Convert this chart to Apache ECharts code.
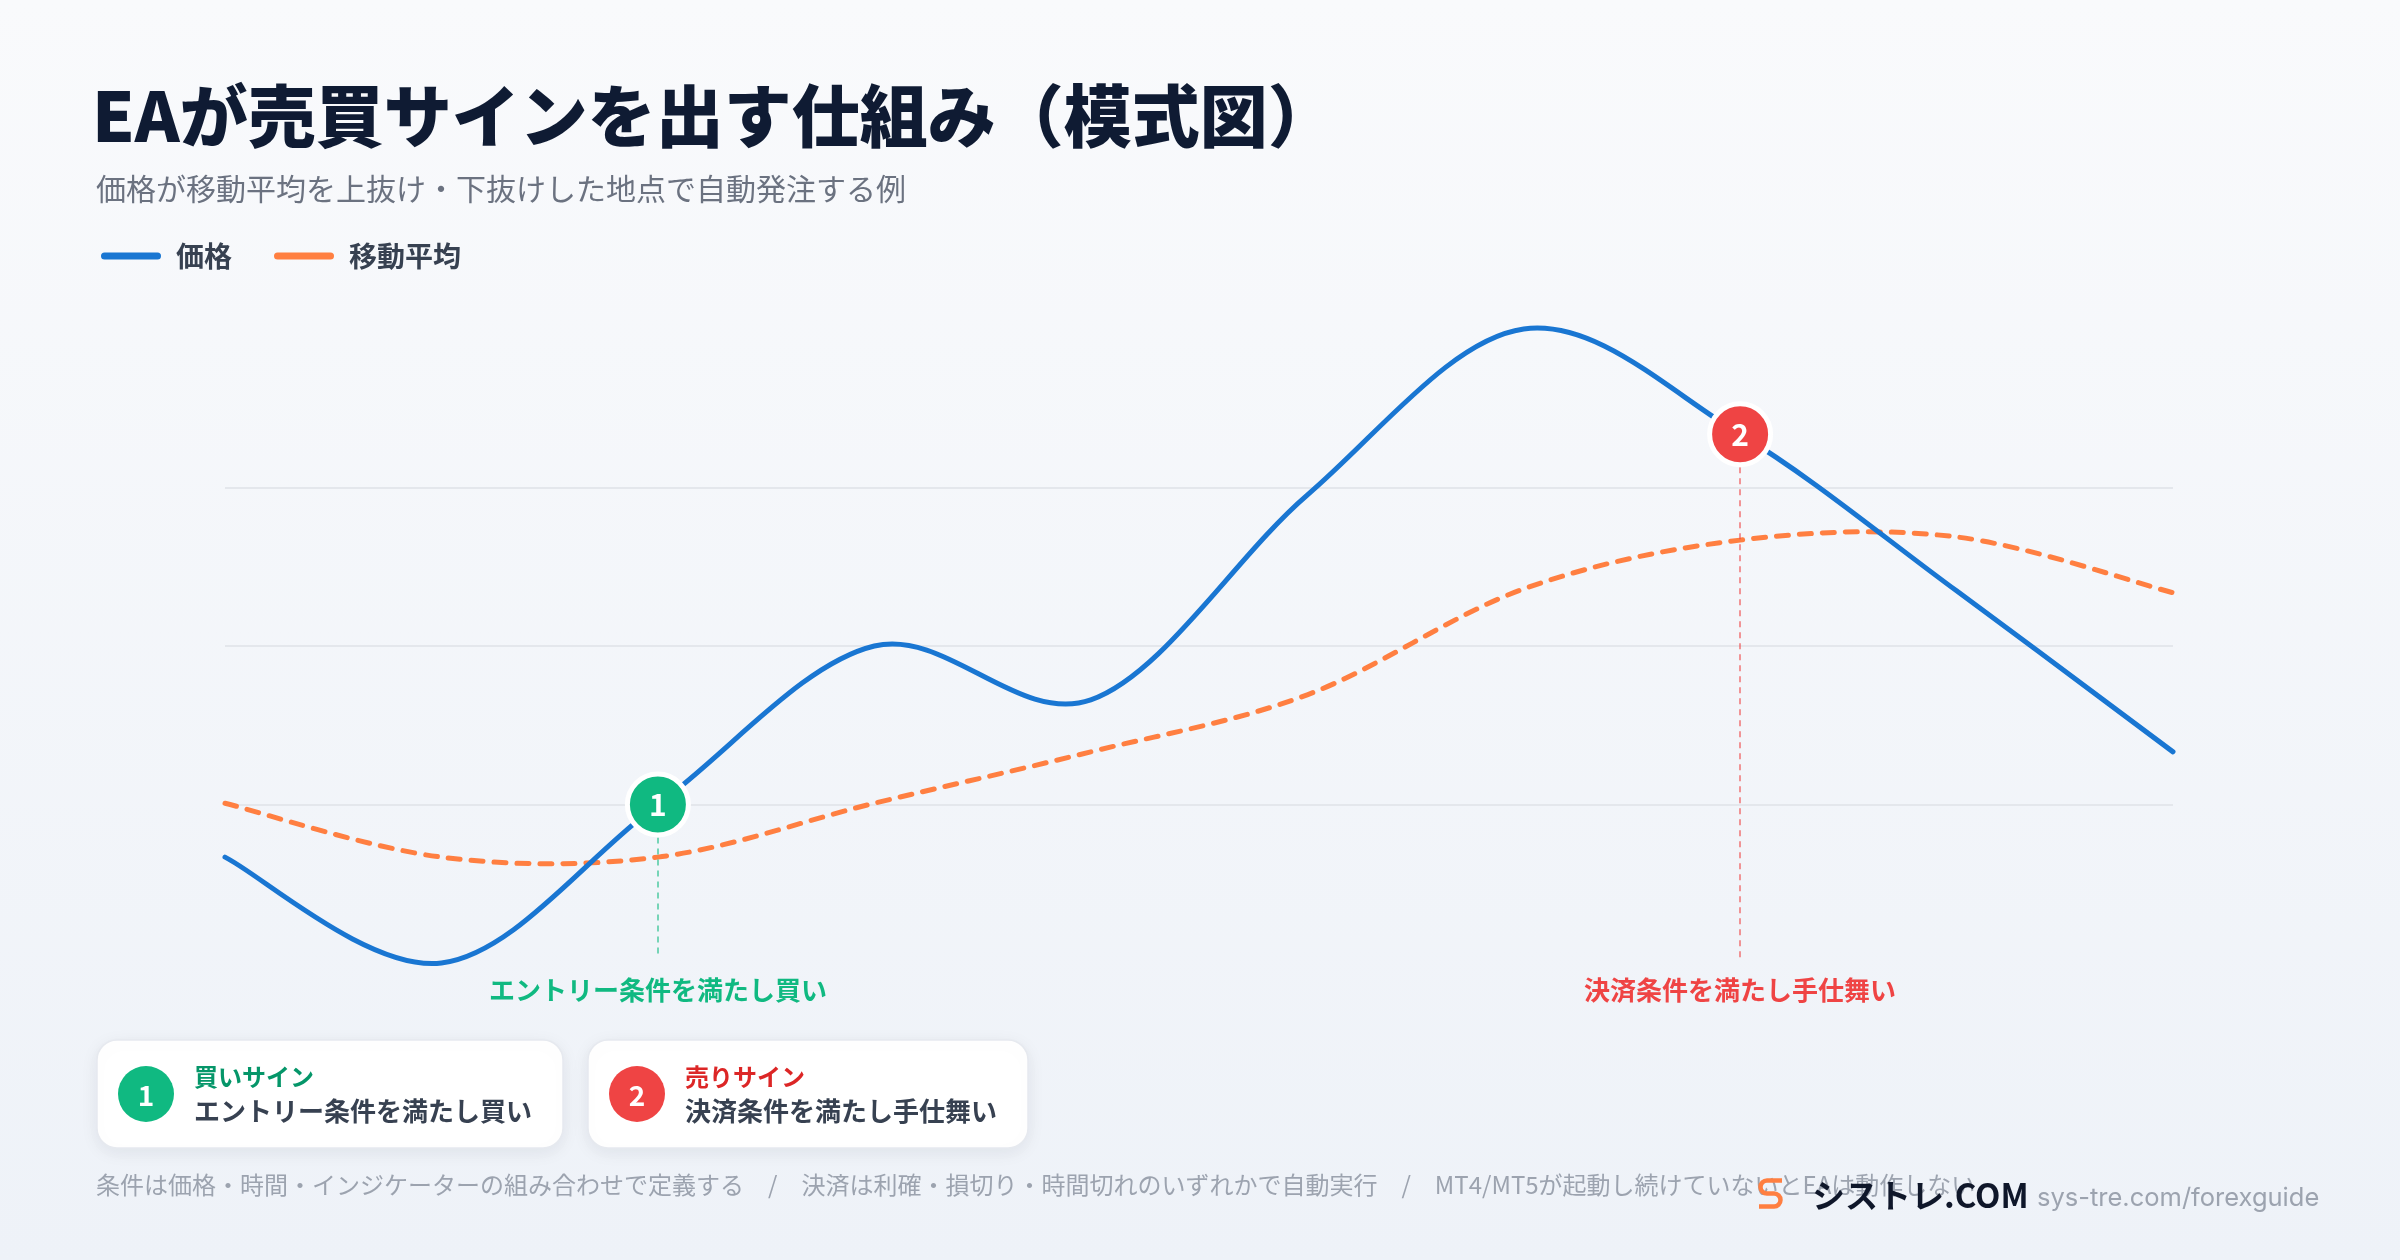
<!DOCTYPE html>
<html>
<head>
<meta charset="utf-8">
<script src="https://cdn.jsdelivr.net/npm/echarts@6/dist/echarts.min.js"></script>
<style>
  html, body { margin: 0; padding: 0; background: #f5f7fb; }
  #chart { width: 2400px; height: 1260px; }
</style>
</head>
<body>
<div id="chart"></div>
<script>
// ---- data ----
const categories = ['t1', 't2', 't3', 't4', 't5', 't6', 't7', 't8', 't9', 't10'];
const priceValues = [16.7, 0, 25, 50, 41.5, 73.8, 100, 83.4, 58.7, 33.3];
const maValues = [25.2, 16.7, 16.7, 25.2, 33.3, 42.3, 59.0, 66.7, 67.2, 58.4];
const seriesNames = ['価格', '移動平均'];
const signalIndex = [2, 7];
const signalNumbers = ['1', '2'];
const signalLabels = ['エントリー条件を満たし買い', '決済条件を満たし手仕舞い'];
const cardTitles = ['買いサイン', '売りサイン'];
const cardTexts = ['エントリー条件を満たし買い', '決済条件を満たし手仕舞い'];
const yTicks = [0, 25, 50, 75, 100];

const titleText = 'EAが売買サインを出す仕組み（模式図）';
const subtitleText = '価格が移動平均を上抜け・下抜けした地点で自動発注する例';
const footerText = '条件は価格・時間・インジケーターの組み合わせで定義する　/　決済は利確・損切り・時間切れのいずれかで自動実行　/　MT4/MT5が起動し続けていないとEAは動作しない';

// ---- styles ----
const JP = '"Noto Sans CJK JP", "Noto Sans", sans-serif';
const BLUE = '#1976d2';
const ORANGE = '#ff7f41';
const GREEN = '#10b981';
const RED = '#ef4444';
const signalColors = [GREEN, RED];
const signalLineColors = ['rgba(16,185,129,0.55)', 'rgba(239,68,68,0.55)'];
const cardTitleColors = ['#059669', '#dc2626'];

const chart = echarts.init(document.getElementById('chart'), null, { renderer: 'canvas' });

// Cardinal (Catmull-Rom) spline through the series points, positioned by the axes (api.coord)
function splineItem(values, style) {
  return function (params, api) {
    if (params.dataIndex !== 0) return null;
    const pts = values.map((v, i) => api.coord([i, v]));
    const n = pts.length;
    let d = 'M' + pts[0][0] + ' ' + pts[0][1];
    for (let i = 0; i < n - 1; i++) {
      const p0 = pts[i - 1] || pts[i];
      const p1 = pts[i];
      const p2 = pts[i + 1];
      const p3 = pts[i + 2] || pts[i + 1];
      const c1x = p1[0] + (p2[0] - p0[0]) / 6, c1y = p1[1] + (p2[1] - p0[1]) / 6;
      const c2x = p2[0] - (p3[0] - p1[0]) / 6, c2y = p2[1] - (p3[1] - p1[1]) / 6;
      d += ' C' + c1x + ' ' + c1y + ' ' + c2x + ' ' + c2y + ' ' + p2[0] + ' ' + p2[1];
    }
    return { type: 'path', shape: { pathData: d }, style: Object.assign({ fill: 'none' }, style), silent: true };
  };
}

const cards = [
  { x: 97, w: 466 },
  { x: 588, w: 440 }
];
const logoStroke = { stroke: ORANGE, lineWidth: 4.5, fill: null };
const graphics = [
  { type: 'text', x: 92, y: 116, style: { text: titleText, font: '900 68px ' + JP, fill: '#0f1b33', verticalAlign: 'middle' } },
  { type: 'text', x: 96, y: 189, style: { text: subtitleText, font: '30px ' + JP, fill: '#6b7280', verticalAlign: 'middle' } },
  { type: 'text', x: 96, y: 1185, style: { text: footerText, font: '24px ' + JP, fill: '#9ca3af', verticalAlign: 'middle' } },
  { type: 'line', shape: { x1: 1782, y1: 1180.5, x2: 1767, y2: 1180.5 }, style: logoStroke },
  { type: 'arc', shape: { cx: 1767, cy: 1187, r: 6.5, startAngle: Math.PI / 2, endAngle: Math.PI * 1.5, clockwise: true }, style: logoStroke },
  { type: 'line', shape: { x1: 1767, y1: 1193.5, x2: 1774, y2: 1193.5 }, style: logoStroke },
  { type: 'arc', shape: { cx: 1774, cy: 1200, r: 6.5, startAngle: -Math.PI / 2, endAngle: Math.PI / 2, clockwise: true }, style: logoStroke },
  { type: 'line', shape: { x1: 1774, y1: 1206.5, x2: 1759, y2: 1206.5 }, style: logoStroke },
  { type: 'text', x: 1812, y: 1195, style: { text: 'シストレ.COM', font: 'bold 33px ' + JP, fill: '#0f172a', verticalAlign: 'middle' } },
  { type: 'text', x: 2037, y: 1198, style: { text: 'sys-tre.com/forexguide', font: '25.5px Inter, Roboto, sans-serif', fill: '#9ca3af', verticalAlign: 'middle' } }
];
cards.forEach((c, i) => {
  graphics.push({ type: 'rect', shape: { x: c.x, y: 1040, width: c.w, height: 108, r: 20 },
    style: { fill: '#ffffff', stroke: '#e6e9ef', lineWidth: 1.5, shadowBlur: 18, shadowColor: 'rgba(15,23,42,0.07)', shadowOffsetY: 4 } });
  graphics.push({ type: 'circle', shape: { cx: c.x + 49, cy: 1094, r: 28 }, style: { fill: signalColors[i] } });
  graphics.push({ type: 'text', x: c.x + 49, y: 1095, style: { text: signalNumbers[i], font: 'bold 28px ' + JP, fill: '#ffffff', align: 'center', verticalAlign: 'middle' } });
  graphics.push({ type: 'text', x: c.x + 97, y: 1077, style: { text: cardTitles[i], font: 'bold 24px ' + JP, fill: cardTitleColors[i], verticalAlign: 'middle' } });
  graphics.push({ type: 'text', x: c.x + 97, y: 1111, style: { text: cardTexts[i], font: 'bold 26px ' + JP, fill: '#374151', verticalAlign: 'middle' } });
});

const option = {
  animation: false,
  backgroundColor: {
    type: 'linear', x: 0, y: 0, x2: 0, y2: 1,
    colorStops: [{ offset: 0, color: '#f9fafc' }, { offset: 1, color: '#eef2f8' }]
  },
  textStyle: { fontFamily: JP },
  grid: { left: 225, right: 227, top: 329, bottom: 297 },
  legend: {
    left: 96, top: 237,
    data: seriesNames,
    icon: 'path://M3.5,0 L56.5,0 A3.5,3.5 0 0 1 56.5,7 L3.5,7 A3.5,3.5 0 0 1 3.5,0 Z',
    itemWidth: 60, itemHeight: 7, itemGap: 42,
    itemStyle: { borderWidth: 0 },
    textStyle: { fontSize: 28, fontWeight: 'bold', color: '#374151', fontFamily: JP, padding: [0, 0, 0, 10] },
    selectedMode: false
  },
  xAxis: {
    type: 'category', data: categories, boundaryGap: false,
    axisLine: { show: false }, axisTick: { show: false }, axisLabel: { show: false }, splitLine: { show: false }
  },
  yAxis: {
    type: 'value', min: yTicks[0], max: yTicks[yTicks.length - 1], interval: yTicks[1] - yTicks[0],
    axisLine: { show: false }, axisTick: { show: false }, axisLabel: { show: false },
    splitLine: { show: true, showMinLine: false, showMaxLine: false, lineStyle: { color: '#e4e7ec', width: 2 } }
  },
  series: [
    {
      name: seriesNames[1], type: 'custom', z: 2, clip: false, silent: true,
      data: maValues.map((v, i) => [i, v]),
      encode: { x: 0, y: 1 },
      itemStyle: { color: ORANGE },
      renderItem: splineItem(maValues, { stroke: ORANGE, lineWidth: 5, lineDash: [12, 11], lineCap: 'round' })
    },
    {
      name: seriesNames[0], type: 'custom', z: 3, clip: false, silent: true,
      data: priceValues.map((v, i) => [i, v]),
      encode: { x: 0, y: 1 },
      itemStyle: { color: BLUE },
      renderItem: splineItem(priceValues, { stroke: BLUE, lineWidth: 5, lineJoin: 'round', lineCap: 'round' })
    },
    {
      name: 'signals', type: 'scatter', z: 10, silent: true,
      data: signalIndex.map((idx, i) => ({
        name: signalNumbers[i], value: [idx, priceValues[idx]],
        itemStyle: { color: signalColors[i] }
      })),
      symbol: 'circle', symbolSize: 61,
      itemStyle: { borderColor: '#ffffff', borderWidth: 5, opacity: 1 },
      label: { show: true, position: 'inside', formatter: '{b}', color: '#ffffff', fontSize: 30, fontWeight: 'bold', fontFamily: JP },
      markLine: {
        silent: true, symbol: 'none', z: 4, animation: false,
        data: signalIndex.map((idx, i) => [
          { coord: [idx, priceValues[idx]],
            lineStyle: { color: signalLineColors[i], width: 2, type: [6, 5] },
            label: { show: true, position: 'end', distance: 19, formatter: signalLabels[i], color: signalColors[i], fontSize: 26, fontWeight: 'bold', fontFamily: JP } },
          { coord: [idx, 0.8] }
        ])
      }
    }
  ],
  graphic: graphics
};
chart.setOption(option);
</script>
</body>
</html>
